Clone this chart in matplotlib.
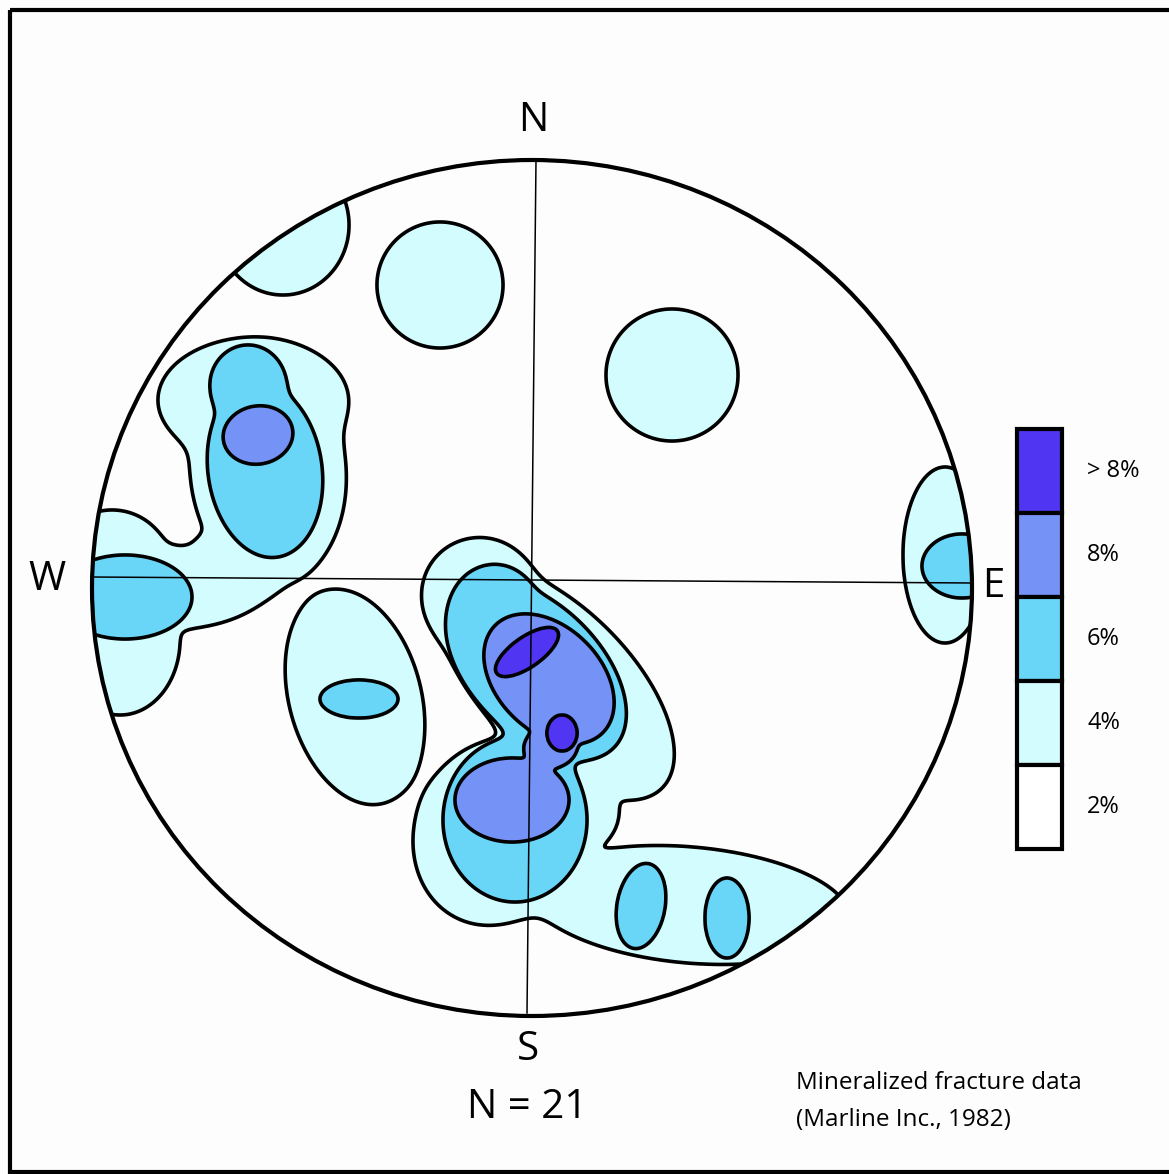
#!/usr/bin/env python3
import numpy as np
import matplotlib
matplotlib.use("Agg")
import matplotlib.pyplot as plt
from matplotlib.patches import Ellipse, Rectangle

# Figure size in pixels (axes use pixel units, y pointing down)
W_PX, H_PX = 1169, 1174

# Primitive circle of the stereonet
NET_CX, NET_CY = 532, 588
NET_RX, NET_RY = 440, 428

# Contour classes (legend, from top to bottom)
CLASS_LABELS = ["> 8%", "8%", "6%", "4%", "2%"]
CLASS_COLORS = ["#5035F2", "#7592F7", "#6AD6F7", "#D2FCFD", "#FFFFFF"]

# Density blobs: contour class (1 = 4%, 2 = 6%,
# 3 = 8%, 4 = >8%), centre, semi-axes and tilt (deg, screen coords)
BLOB_LEVEL = [1, 1, 1,
              1, 1, 1, 1, 1, 1,
              1, 1, 1, 1, 1,
              1,
              1,
              2, 2, 2,
              2, 2, 2,
              2,
              2, 2,
              2,
              3,
              3, 3, 3,
              4, 4]
BLOB_X = [283, 440, 672,
          253, 268, 165, 120, 112, 235,
          480, 556, 497, 690, 580,
          355,
          945,
          265, 248, 125,
          536, 495, 515,
          359,
          641, 727,
          962,
          258,
          549, 512, 550,
          527, 562]
BLOB_Y = [225, 285, 375,
          400, 470, 588, 640, 570, 565,
          595, 682, 832, 905, 815,
          697,
          555,
          470, 385, 597,
          670, 605, 820,
          699,
          906, 918,
          566,
          435,
          679, 800, 748,
          652, 733]
BLOB_RX = [66, 63, 66,
           95, 78, 100, 60, 60, 50,
           57, 150, 82, 160, 38,
           110,
           42,
           57, 38, 67,
           110, 40, 72,
           39,
           24, 22,
           40,
           35,
           76, 57, 26,
           37, 15]
BLOB_RY = [70, 63, 66,
           62, 115, 42, 75, 60, 38,
           57, 74, 95, 58, 35,
           66,
           88,
           88, 40, 42,
           65, 40, 82,
           19,
           43, 40,
           32,
           29,
           52, 42, 20,
           15, 18]
BLOB_ANGLE = [0, 0, 0,
              0, -5, 0, 0, 0, 0,
              0, 45, 22, 5, 0,
              75,
              0,
              -8, 0, 0,
              45, 0, 0,
              0,
              10, 0,
              0,
              -10,
              45, 0, 0,
              -35, 0]

SHARPNESS = 5.0


def level_field(xx, yy, level):
    """Metaball style field, equal to 1 on the edge of an isolated blob."""
    f = np.zeros_like(xx)
    for lv, cx, cy, rx, ry, ang in zip(BLOB_LEVEL, BLOB_X, BLOB_Y,
                                       BLOB_RX, BLOB_RY, BLOB_ANGLE):
        if lv != level:
            continue
        a = np.radians(ang)
        dx, dy = xx - cx, yy - cy
        u = dx * np.cos(a) + dy * np.sin(a)
        v = -dx * np.sin(a) + dy * np.cos(a)
        q = (u / rx) ** 2 + (v / ry) ** 2
        f += np.exp(-SHARPNESS * (q - 1))
    return f


def main():
    fig = plt.figure(figsize=(W_PX / 100, H_PX / 100), dpi=100)
    fig.patch.set_facecolor("#FDFDFD")
    ax = fig.add_axes([0, 0, 1, 1])
    ax.set_xlim(0, W_PX)
    ax.set_ylim(H_PX, 0)
    ax.axis("off")

    # frame
    ax.add_patch(Rectangle((10, 10), W_PX, 1162, fill=False, lw=3, ec="black", zorder=1))

    clip = Ellipse((NET_CX, NET_CY), 2 * NET_RX, 2 * NET_RY, transform=ax.transData)

    xs = np.arange(60, 1000, 1.5)
    ys = np.arange(130, 1050, 1.5)
    xx, yy = np.meshgrid(xs, ys)

    fill_colors = CLASS_COLORS[::-1]  # 2%, 4%, 6%, 8%, >8%
    for level in range(1, 5):
        f = level_field(xx, yy, level)
        cf = ax.contourf(xx, yy, f, levels=[1, 1e9], colors=[fill_colors[level]],
                         zorder=2 + level)
        cl = ax.contour(xx, yy, f, levels=[1], colors="black", linewidths=2.6,
                        zorder=2.5 + level)
        cf.set_clip_path(clip)
        cl.set_clip_path(clip)

    # N-S and E-W lines
    ax.plot([536, 527], [160, 1013], color="black", lw=1.1, zorder=9)
    ax.plot([92, 972], [577, 583], color="black", lw=1.1, zorder=9)

    # primitive circle
    ax.add_patch(Ellipse((NET_CX, NET_CY), 2 * NET_RX, 2 * NET_RY, fill=False,
                         lw=3, ec="black", zorder=10))

    font = "Open Sans"
    ax.text(533, 121, "N", fontsize=29, ha="center", va="center", family=font)
    ax.text(47, 580, "W", fontsize=29, ha="center", va="center", family=font)
    ax.text(993, 587, "E", fontsize=29, ha="center", va="center", family=font)
    ax.text(528, 1050, "S", fontsize=29, ha="center", va="center", family=font)
    ax.text(527, 1108, "N = 21", fontsize=29, ha="center", va="center", family=font)
    ax.text(796, 1083, "Mineralized fracture data", fontsize=17.5, ha="left",
            va="center", family=font)
    ax.text(796, 1120, "(Marline Inc., 1982)", fontsize=17.5, ha="left",
            va="center", family=font)

    # legend column
    box_x, box_y, box_w, cell_h = 1017, 429, 45, 84
    for i, (lab, col) in enumerate(zip(CLASS_LABELS, CLASS_COLORS)):
        y0 = box_y + i * cell_h
        ax.add_patch(Rectangle((box_x, y0), box_w, cell_h, fc=col, ec="black",
                               lw=3, zorder=5))
        ax.text(1087, y0 + cell_h / 2, lab, fontsize=17, ha="left", va="center",
                family=font)

    fig.savefig("out.png", dpi=100, facecolor=fig.get_facecolor())


if __name__ == "__main__":
    main()
